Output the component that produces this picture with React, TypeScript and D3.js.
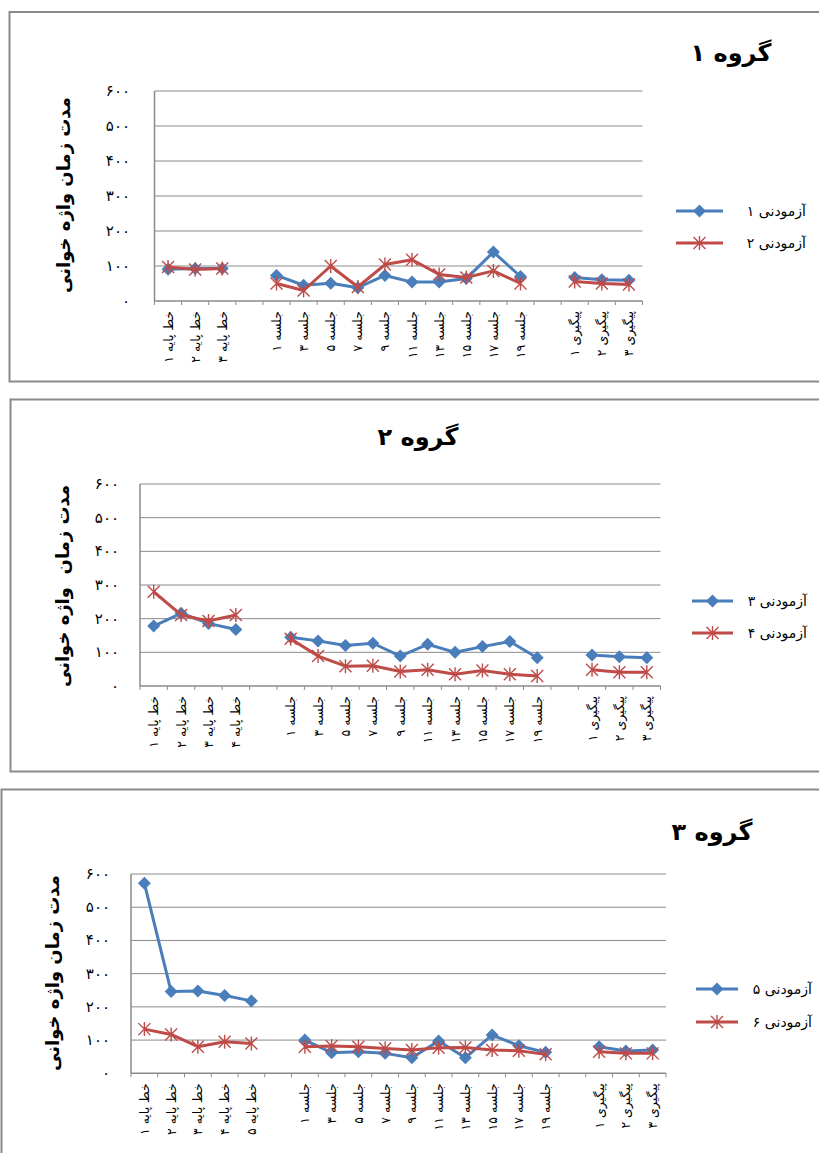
import React from 'react';
import * as d3 from 'd3';

// category labels
const baseline3 = ['خط پایه ۱', 'خط پایه ۲', 'خط پایه ۳'];
const baseline4 = ['خط پایه ۱', 'خط پایه ۲', 'خط پایه ۳', 'خط پایه ۴'];
const baseline5 = ['خط پایه ۱', 'خط پایه ۲', 'خط پایه ۳', 'خط پایه ۴', 'خط پایه ۵'];
const sessions = ['جلسه ۱', 'جلسه ۳', 'جلسه ۵', 'جلسه ۷', 'جلسه ۹', 'جلسه ۱۱', 'جلسه ۱۳', 'جلسه ۱۵', 'جلسه ۱۷', 'جلسه ۱۹'];
const followups = ['پیگیری ۱', 'پیگیری ۲', 'پیگیری ۳'];

const yTicks = [0, 100, 200, 300, 400, 500, 600];
const yTickLabels = ['۰', '۱۰۰', '۲۰۰', '۳۰۰', '۴۰۰', '۵۰۰', '۶۰۰'];

// group 1 (null = gap category)
const g1s1 = [91, 93, 93, null, 73, 45, 51, 38, 73, 54, 54, 64, 140, 70, null, 67, 61, 59];
const g1s2 = [97, 90, 93, null, 50, 30, 100, 40, 104, 118, 76, 67, 86, 50, null, 56, 50, 47];
// group 2
const g2s1 = [178, 216, 186, 168, null, 145, 134, 120, 127, 89, 124, 100, 117, 132, 84, null, 92, 87, 84];
const g2s2 = [280, 211, 193, 211, null, 140, 89, 59, 60, 43, 48, 35, 46, 35, 30, null, 48, 41, 41];
// group 3
const g3s1 = [572, 246, 248, 234, 218, null, 100, 62, 65, 60, 47, 97, 47, 115, 83, 63, null, 80, 67, 70];
const g3s2 = [133, 117, 80, 95, 90, null, 80, 82, 80, 75, 70, 77, 78, 70, 68, 57, null, 65, 60, 60];

const BLUE = '#4A7EBB';
const RED = '#BE4B48';
const GRID = '#8a8a8a';
const FONT = 'DejaVu Sans, sans-serif';

type PanelProps = {
  box: { x: number; y: number; h: number };
  plot: { l: number; t: number; r: number; b: number };
  cats: string[];
  s1: (number | null)[];
  s2: (number | null)[];
  title: string;
  titlePos: [number, number];
  yTitle: string;
  yTitlePos: [number, number];
  yTickX: number;
  legend: { x1: number; x2: number; tx: number; y1: number; y2: number };
  names: [string, string];
};

const Diamond = ({ x, y }: { x: number; y: number }) => (
  <path d={`M${x},${y - 6.5}L${x + 6.5},${y}L${x},${y + 6.5}L${x - 6.5},${y}Z`} fill={BLUE} />
);

const Star = ({ x, y }: { x: number; y: number }) => {
  const s = 6;
  return (
    <path
      d={`M${x - s},${y - s}L${x + s},${y + s}M${x - s},${y + s}L${x + s},${y - s}M${x},${y - s - 1}L${x},${y + s + 1}`}
      stroke={RED}
      strokeWidth={1.4}
      fill="none"
    />
  );
};

const Panel: React.FC<PanelProps> = (p) => {
  const { plot } = p;
  const x = d3.scaleBand<number>().domain(d3.range(p.cats.length)).range([plot.l, plot.r]).padding(0);
  const y = d3.scaleLinear().domain([0, 600]).range([plot.b, plot.t]);
  const cx = (i: number) => (x(i) || 0) + x.bandwidth() / 2;
  const line = d3
    .line<number | null>()
    .defined((d) => d != null)
    .x((_, i) => cx(i))
    .y((d) => y(d as number));

  return (
    <g>
      <rect x={p.box.x} y={p.box.y} width={830} height={p.box.h} fill="#fff" stroke={GRID} strokeWidth={2} />
      <text x={p.titlePos[0]} y={p.titlePos[1]} fontFamily={FONT} fontWeight="bold" fontSize={24} textAnchor="middle" dominantBaseline="central">
        {p.title}
      </text>
      <text
        transform={`translate(${p.yTitlePos[0]},${p.yTitlePos[1]}) rotate(-90)`}
        fontFamily={FONT}
        fontWeight="bold"
        fontSize={18}
        textAnchor="middle"
        dominantBaseline="central"
        style={{ whiteSpace: 'pre' }}
      >
        {p.yTitle}
      </text>
      {/* gridlines */}
      {yTicks.map((t, i) => (
        <g key={t}>
          {t > 0 && <line x1={plot.l} x2={plot.r} y1={y(t)} y2={y(t)} stroke={GRID} strokeWidth={1} />}
          <text x={p.yTickX} y={y(t)} fontFamily={FONT} fontSize={15} textAnchor="end" dominantBaseline="central">
            {yTickLabels[i]}
          </text>
        </g>
      ))}
      <line x1={plot.l} x2={plot.l} y1={plot.t} y2={plot.b} stroke={GRID} strokeWidth={1.5} />
      <line x1={plot.l} x2={plot.r} y1={plot.b} y2={plot.b} stroke={GRID} strokeWidth={1.5} />
      {d3.range(p.cats.length + 1).map((i) => {
        const xx = i < p.cats.length ? x(i) || 0 : plot.r;
        return <line key={i} x1={xx} x2={xx} y1={plot.b} y2={plot.b + 4} stroke={GRID} strokeWidth={1} />;
      })}
      {p.cats.map((c, i) =>
        c ? (
          <text
            key={i}
            transform={`translate(${cx(i)},${plot.b + 10}) rotate(-90)`}
            fontFamily={FONT}
            fontSize={12.5}
            textAnchor="end"
            dominantBaseline="central"
          >
            {c}
          </text>
        ) : null
      )}
      <path d={line(p.s1) || ''} fill="none" stroke={BLUE} strokeWidth={3} strokeLinejoin="round" />
      {p.s1.map((d, i) => (d == null ? null : <Diamond key={i} x={cx(i)} y={y(d)} />))}
      <path d={line(p.s2) || ''} fill="none" stroke={RED} strokeWidth={3} strokeLinejoin="round" />
      {p.s2.map((d, i) => (d == null ? null : <Star key={i} x={cx(i)} y={y(d)} />))}
      {/* legend */}
      <line x1={p.legend.x1} x2={p.legend.x2} y1={p.legend.y1} y2={p.legend.y1} stroke={BLUE} strokeWidth={3} />
      <Diamond x={(p.legend.x1 + p.legend.x2) / 2} y={p.legend.y1} />
      <text x={p.legend.tx} y={p.legend.y1} fontFamily={FONT} fontSize={14} textAnchor="end" dominantBaseline="central">
        {p.names[0]}
      </text>
      <line x1={p.legend.x1} x2={p.legend.x2} y1={p.legend.y2} y2={p.legend.y2} stroke={RED} strokeWidth={3} />
      <Star x={(p.legend.x1 + p.legend.x2) / 2} y={p.legend.y2} />
      <text x={p.legend.tx} y={p.legend.y2} fontFamily={FONT} fontSize={14} textAnchor="end" dominantBaseline="central">
        {p.names[1]}
      </text>
    </g>
  );
};

export default function App() {
  return (
    <svg width={819} height={1153} style={{ position: 'absolute', left: 0, top: 0, background: '#fff' }}>
      <Panel
        box={{ x: 9.5, y: 12, h: 369.5 }}
        plot={{ l: 154.5, t: 91, r: 642.5, b: 301 }}
        cats={[...baseline3, '', ...sessions, '', ...followups]}
        s1={g1s1}
        s2={g1s2}
        title="گروه ۱"
        titlePos={[731, 53]}
        yTitle="مدت زمان واژه خوانی"
        yTitlePos={[63, 195]}
        yTickX={130}
        legend={{ x1: 676, x2: 723, tx: 806, y1: 211, y2: 243 }}
        names={['آزمودنی ۱', 'آزمودنی ۲']}
      />
      <Panel
        box={{ x: 10.5, y: 399.5, h: 372 }}
        plot={{ l: 140, t: 484, r: 660.5, b: 686 }}
        cats={[...baseline4, '', ...sessions, '', ...followups]}
        s1={g2s1}
        s2={g2s2}
        title="گروه ۲"
        titlePos={[418, 437]}
        yTitle="مدت زمان  واژه خوانی"
        yTitlePos={[62, 586]}
        yTickX={119}
        legend={{ x1: 692, x2: 733, tx: 807, y1: 601, y2: 633 }}
        names={['آزمودنی ۳', 'آزمودنی ۴']}
      />
      <Panel
        box={{ x: 1.5, y: 789.5, h: 400 }}
        plot={{ l: 131, t: 874, r: 666, b: 1073.3 }}
        cats={[...baseline5, '', ...sessions, '', ...followups]}
        s1={g3s1}
        s2={g3s2}
        title="گروه ۳"
        titlePos={[712, 832]}
        yTitle="مدت زمان واژه خوانی"
        yTitlePos={[52, 973]}
        yTickX={110}
        legend={{ x1: 696, x2: 738, tx: 812, y1: 989, y2: 1022 }}
        names={['آزمودنی ۵', 'آزمودنی ۶']}
      />
    </svg>
  );
}
